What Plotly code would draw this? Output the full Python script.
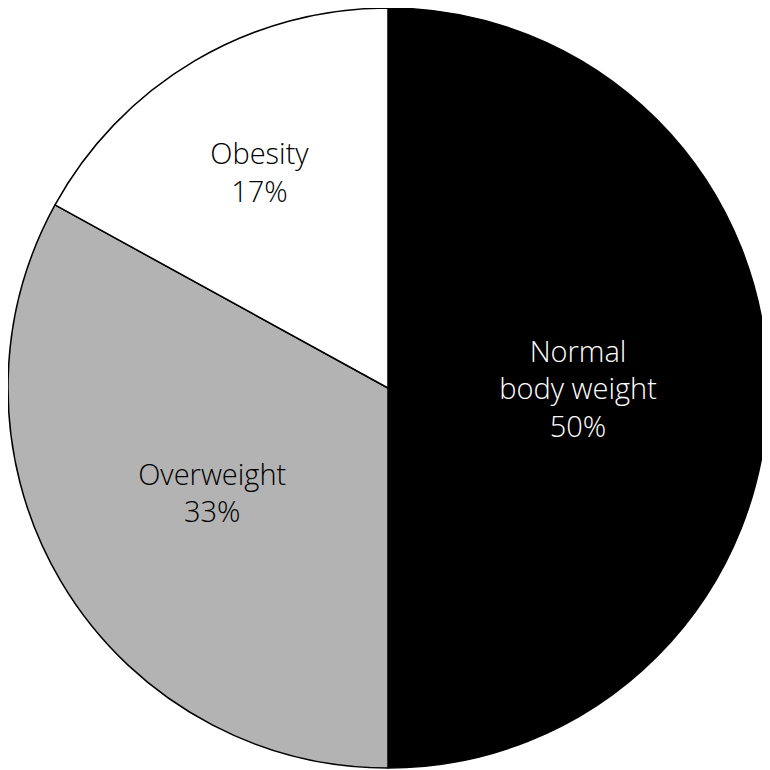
import plotly.graph_objects as go

# BMI categories and share of patients (%)
labels = ['Normal<br>body weight', 'Overweight', 'Obesity']
values = [50, 33, 17]
colors = ['#000000', '#b3b3b3', '#ffffff']
text_colors = ['#ffffff', '#000000', '#000000']

fig = go.Figure()

fig.add_trace(go.Pie(
    labels=labels,
    values=values,
    sort=False,
    direction='clockwise',
    rotation=0,
    marker=dict(colors=colors, line=dict(color='#000000', width=1.5)),
    texttemplate='%{label}<br>%{value}%',
    textposition='inside',
    insidetextorientation='horizontal',
    textfont=dict(family='Open Sans', size=29, weight=300, color=text_colors),
    hoverinfo='label+percent',
    showlegend=False,
))

# page adds ~8px body margin, so keep the right/bottom margins to centre the pie
fig.update_layout(
    width=770,
    height=770,
    margin=dict(l=0, r=10, t=0, b=10),
    paper_bgcolor='white',
    plot_bgcolor='white',
    uniformtext=dict(minsize=29, mode='show'),
)

fig.write_html('out.html')
